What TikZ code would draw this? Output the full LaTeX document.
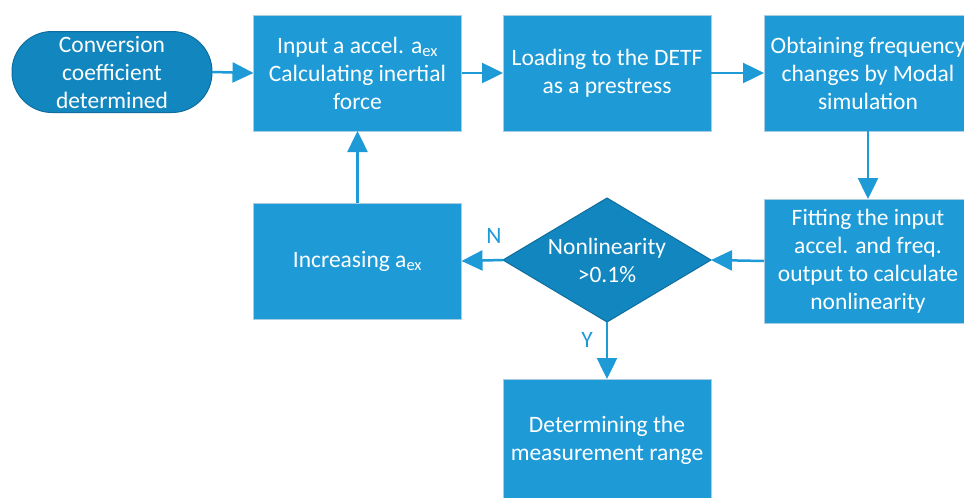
\documentclass[tikz,border=0pt]{standalone}
\usepackage{fontspec}
\setmainfont{Carlito}
\usetikzlibrary{shapes.geometric,arrows.meta}
\definecolor{boxblue}{HTML}{1E9BD7}
\definecolor{darkblue}{HTML}{1286BE}
\definecolor{darkedge}{HTML}{0F6E9E}
\definecolor{lightedge}{HTML}{A9CDE3}
\tikzset{
  txt/.style={text=white, align=center, font=\fontsize{23.5}{28}\selectfont},
  procbox/.style={rectangle, fill=boxblue, draw=lightedge, line width=1pt,
    minimum width=208pt, minimum height=116pt, inner sep=0pt, outer sep=0pt, txt},
  termbox/.style={rectangle, rounded corners=40pt, fill=darkblue, draw=darkedge, line width=1pt,
    minimum width=200pt, minimum height=81pt, inner sep=0pt, outer sep=0pt, txt},
  decbox/.style={diamond, fill=darkblue, draw=darkedge, line width=1pt,
    minimum width=208pt, minimum height=124pt, inner sep=0pt, outer sep=0pt},
  flow/.style={draw=boxblue, line width=2.5pt, -{Triangle[length=21pt,width=20pt]}},
  lbl/.style={text=boxblue, font=\fontsize{23.5}{28}\selectfont, inner sep=0pt}
}
\begin{document}
\begin{tikzpicture}[x=1pt,y=-1pt]
\useasboundingbox (0,0) rectangle (964,498);
\clip (0,0) rectangle (964,498);
\node[termbox] (start) at (112,72) {Conversion\\coefficient\\determined};
\node[procbox] (input) at (357.5,73) {Input a accel. a\textsubscript{ex}\\Calculating inertial\\force};
\node[procbox] (load) at (607,73) {Loading to the DETF\\as a prestress};
\node[procbox] (modal) at (868,73) {Obtaining frequency\\changes by Modal\\simulation};
\node[procbox, minimum height=124pt] (fit) at (868,261) {Fitting the input\\accel. and freq.\\output to calculate\\nonlinearity};
\node[decbox] (dec) at (607,260) {};
\node[txt, inner sep=0pt] (dectext) at (607,260) {Nonlinearity\\>0.1\%};
\node[procbox] (incr) at (357.5,261) {Increasing a\textsubscript{ex}};
\node[procbox, minimum height=122pt] (range) at (607,440) {Determining the\\measurement range};
\node[lbl] (nlab) at (494,236) {N};
\node[lbl] (ylab) at (587,340) {Y};
\draw[flow] (start.east) -- (input.west);
\draw[flow] (input.east) -- (load.west);
\draw[flow] (load.east) -- (modal.west);
\draw[flow] (modal.south) -- (fit.north);
\draw[flow] (fit.west) -- (dec.east);
\draw[flow] (dec.west) -- (incr.east);
\draw[flow] (dec.south) -- (range.north);
\draw[flow] (incr.north) -- (input.south);
\end{tikzpicture}
\end{document}
